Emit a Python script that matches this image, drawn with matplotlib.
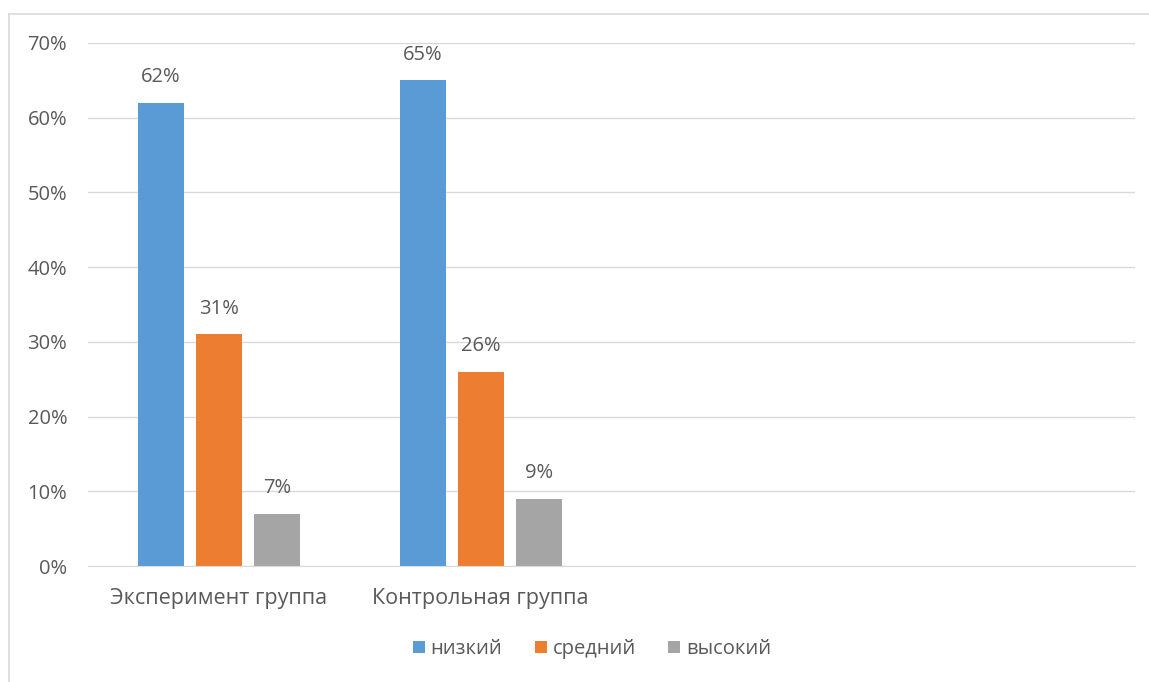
import matplotlib.pyplot as plt
import numpy as np
from matplotlib.lines import Line2D

# Data
categories = ["Эксперимент группа", "Контрольная группа", "", ""]
series_names = ["низкий", "средний", "высокий"]
low = [62, 65]
mid = [31, 26]
high = [7, 9]
yticks = [0, 10, 20, 30, 40, 50, 60, 70]

colors = ["#5b9bd5", "#ed7d31", "#a5a5a5"]
text_color = "#595959"
fs = 14.5

plt.rcParams['font.family'] = ['Open Sans', 'DejaVu Sans']

fig = plt.figure(figsize=(11.49, 6.82), dpi=100)
ax = fig.add_axes([88 / 1149, 116 / 682, (1135 - 88) / 1149, (566 - 43) / 682])

width = 46 / 261.75
step = 58 / 261.75
x = np.arange(len(low))

for k, vals in enumerate([low, mid, high]):
    pos = x + (k - 1) * step
    bars = ax.bar(pos, vals, width=width, color=colors[k], label=series_names[k], zorder=3)
    for b, v in zip(bars, vals):
        ax.annotate(f"{v}%", (b.get_x() + b.get_width() / 2, v),
                    xytext=(0, 11), textcoords="offset points",
                    ha="center", va="bottom", fontsize=fs, color=text_color)

ax.set_xlim(-0.5, len(categories) - 0.5)
ax.set_ylim(0, 70)
ax.set_xticks(np.arange(len(categories)))
ax.set_xticklabels(categories, fontsize=15.5, color=text_color)
ax.set_yticks(yticks)
ax.set_yticklabels([f"{t}%" for t in yticks], fontsize=fs, color=text_color)
ax.tick_params(axis="both", length=0)
ax.tick_params(axis="x", pad=15.5)
ax.tick_params(axis="y", pad=15)
ax.yaxis.grid(True, color="#d9d9d9", linewidth=1, zorder=0)
for s in ["top", "right", "left"]:
    ax.spines[s].set_visible(False)
ax.spines["bottom"].set_color("#d9d9d9")
ax.spines["bottom"].set_zorder(4)

leg = fig.legend(loc="center", bbox_to_anchor=(592 / 1149, 1 - 649 / 682), ncol=3,
                 frameon=False, fontsize=14.5, handlelength=0.6, handleheight=0.6,
                 handletextpad=0.3, columnspacing=1.6)
for t in leg.get_texts():
    t.set_color(text_color)

# chart border (left and top edges visible)
fig.add_artist(Line2D([8.5 / 1149, 8.5 / 1149], [0, 1 - 13.5 / 682], color="#d9d9d9", linewidth=1.2))
fig.add_artist(Line2D([8.5 / 1149, 1.01], [1 - 13.5 / 682, 1 - 13.5 / 682], color="#d9d9d9", linewidth=1.2))

fig.savefig("out.png", dpi=100)
